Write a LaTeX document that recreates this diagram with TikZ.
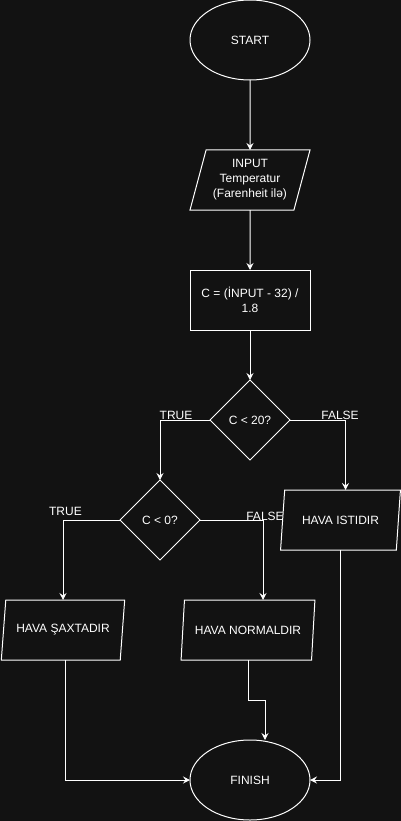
\documentclass[tikz,border=0pt]{standalone}
\usepackage{fontspec}
\setmainfont{Liberation Sans}
\usetikzlibrary{shapes.geometric,arrows.meta}
\definecolor{bgdark}{RGB}{18,18,18}
\tikzset{
    box/.style={draw=white,line width=1pt,text=white,inner sep=0pt,outer sep=0pt,align=center,
        font=\fontsize{12}{15}\selectfont},
    terminal/.style={box,ellipse,minimum width=120pt,minimum height=80pt},
    io/.style={box,trapezium,trapezium left angle=71.6,trapezium right angle=108.4,
        trapezium stretches=true,minimum width=#1,minimum height=60pt},
    process/.style={box,rectangle,minimum width=120pt,minimum height=60pt},
    decision/.style={box,diamond,aspect=1,minimum width=80pt,minimum height=80pt},
    flow/.style={draw=white,line width=1pt,-{Stealth[length=7pt,width=7pt,inset=2.5pt]}},
    lbl/.style={text=white,inner sep=0pt,font=\fontsize{12}{15}\selectfont},
}
\begin{document}
\begin{tikzpicture}[x=1pt,y=-1pt]
        \fill[bgdark] (0,0) rectangle (401,821);
        \useasboundingbox (0,0) rectangle (401,821);

        \node[terminal] (start) at (250,40) {START};
        \node[io=120pt] (input) at (250,180) {INPUT\\Temperatur\\(Farenheit ilə)};
        \node[process] (calc) at (250,300) {C = (İNPUT - 32) /\\1.8};
        \node[decision] (c20) at (250,420) {C < 20?};
        \node[decision] (c0) at (160,520) {C < 0?};
        \node[io=120pt] (hot) at (340.5,520) {HAVA ISTIDIR};
        \node[io=124pt] (cold) at (63,630) {HAVA ŞAXTADIR};
        \node[io=134pt] (normal) at (248,630) {HAVA NORMALDIR};
        \node[terminal] (fin) at (250,780) {FINISH};

        \node[lbl] (true1) at (176,415) {TRUE};
        \node[lbl] (false1) at (340,415) {FALSE};
        \node[lbl] (true2) at (65.5,511) {TRUE};
        \node[lbl] (false2) at (265,516) {FALSE};

        \draw[flow] (start.south) -- (input.north);
        \draw[flow] (input.south) -- (calc.north);
        \draw[flow] (calc.south) -- (c20.north);
        \draw[flow] (c20.west) -| (c0.north);
        \draw[flow] (c20.east) -| ([xshift=5pt]hot.north);
        \draw[flow] (c0.west) -| (cold.north);
        \draw[flow] (c0.east) -| ([xshift=15pt]normal.north);

        \draw[flow] ([xshift=2pt]cold.south) |- (fin.west);
        \draw[flow] (normal.south) -- ++(0,40) -| ([xshift=15pt]fin.north);
        \draw[flow] (hot.south) |- (fin.east);

        \end{tikzpicture}
\end{document}
